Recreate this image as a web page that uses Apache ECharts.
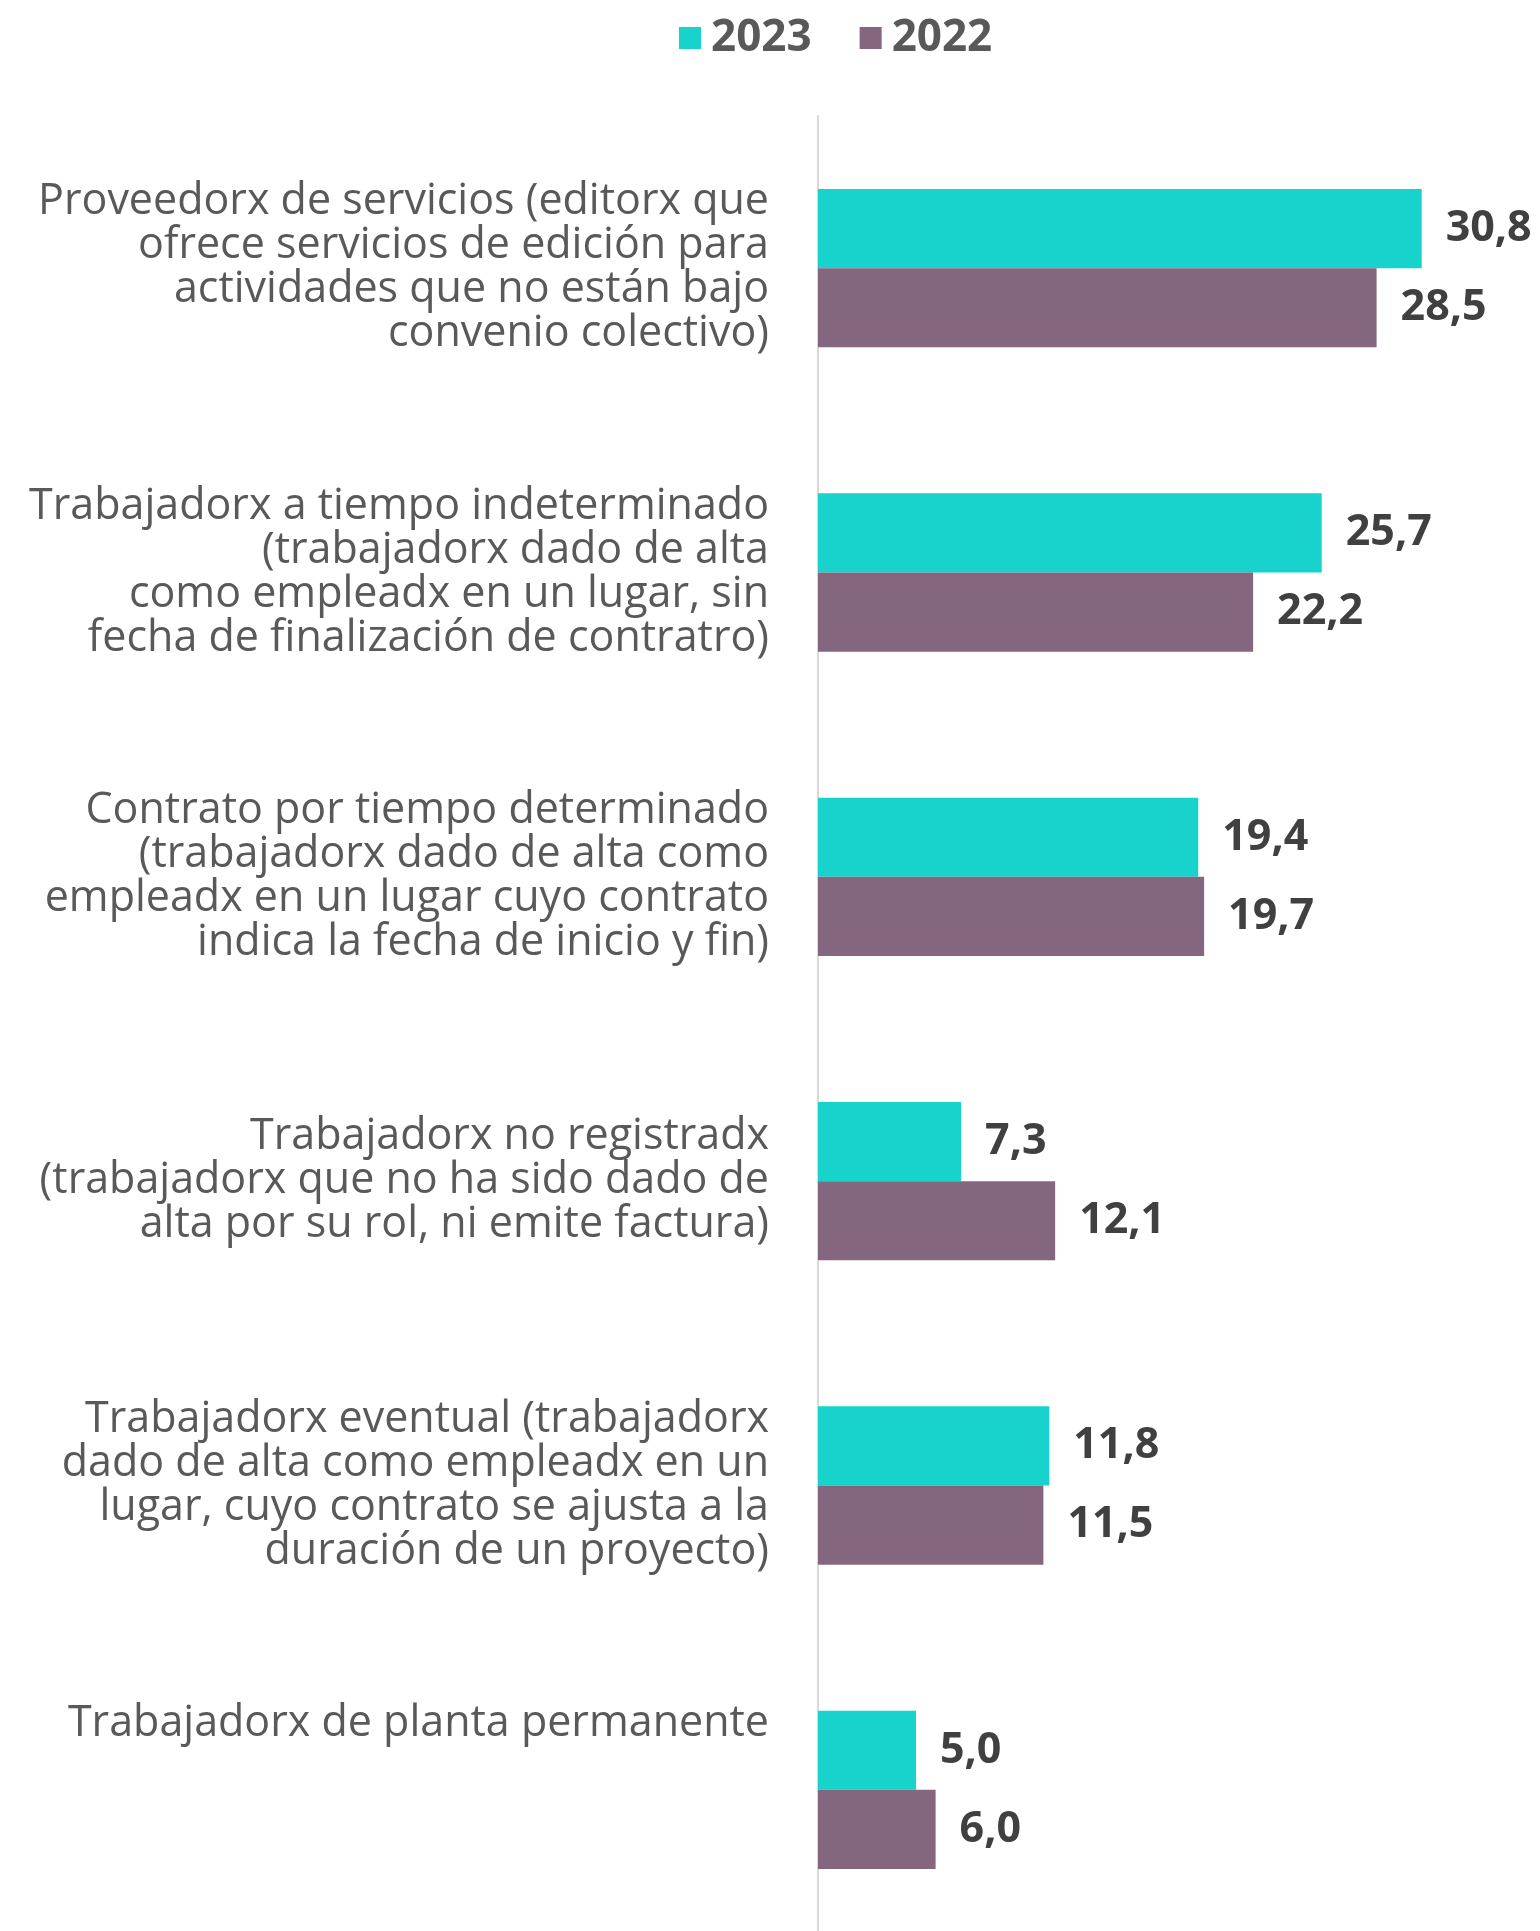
<!DOCTYPE html>
<html>
<head>
<meta charset="utf-8">
<script src="https://cdn.jsdelivr.net/npm/echarts@6/dist/echarts.min.js"></script>
<style>
  html, body { margin: 0; padding: 0; background: #fff; overflow: hidden; }
  #chart { width: 1540px; height: 1950px; }
</style>
</head>
<body>
<div id="chart"></div>
<script>
// ------------------ datos ------------------
var categories = [
    'Proveedorx de servicios (editorx que\nofrece servicios de edición para\nactividades que no están bajo\nconvenio colectivo)',
    'Trabajadorx a tiempo indeterminado\n(trabajadorx dado de alta\ncomo empleadx en un lugar, sin\nfecha de finalización de contratro)',
    'Contrato por tiempo determinado\n(trabajadorx dado de alta como\nempleadx en un lugar cuyo contrato\nindica la fecha de inicio y fin)',
    'Trabajadorx no registradx\n(trabajadorx que no ha sido dado de\nalta por su rol, ni emite factura)',
    'Trabajadorx eventual (trabajadorx\ndado de alta como empleadx en un\nlugar, cuyo contrato se ajusta a la\nduración de un proyecto)',
    'Trabajadorx de planta permanente'
];
var values2023 = [30.8, 25.7, 19.4, 7.3, 11.8, 5.0];
var values2022 = [28.5, 22.2, 19.7, 12.1, 11.5, 6.0];

var COLOR_2023 = '#17d3cc';
var COLOR_2022 = '#84677f';
var FONT = '"Open Sans"';

function fmt(p) {
    return p.value.toFixed(1).replace('.', ',');
}

var myChart = echarts.init(document.getElementById('chart'));

var labelStyle = {
    show: true,
    position: 'right',
    distance: 24,
    formatter: fmt,
    fontFamily: FONT,
    fontWeight: 'bold',
    fontSize: 43,
    color: '#404040'
};

var option = {
    animation: false,
    legend: {
        data: ['2023', '2022'],
        top: 11,
        left: 674,
        icon: 'rect',
        itemWidth: 22,
        itemHeight: 22,
        itemGap: 48,
        textStyle: {
            fontFamily: FONT,
            fontWeight: 'bold',
            fontSize: 44,
            lineHeight: 44,
            color: '#595959',
            padding: [0, 0, 0, 5]
        }
    },
    grid: {
        left: 818,
        top: 116,
        width: 705.6,
        height: 1826
    },
    xAxis: {
        type: 'value',
        min: 0,
        max: 36,
        show: false
    },
    yAxis: {
        type: 'category',
        inverse: true,
        data: categories,
        axisLine: { show: true, lineStyle: { color: '#d9d9d9', width: 2 } },
        axisTick: { show: false },
        splitLine: { show: false },
        axisLabel: {
            margin: 49,
            fontFamily: FONT,
            fontSize: 43,
            lineHeight: 44,
            color: '#595959',
            // la última etiqueta queda alineada arriba, como en el original
            formatter: function (value, index) {
                return index === categories.length - 1 ? value + '\n \n \n ' : value;
            }
        }
    },
    series: [
        {
            name: '2023',
            type: 'bar',
            data: values2023,
            barGap: '0%',
            barCategoryGap: '48%',
            itemStyle: { color: COLOR_2023 },
            label: labelStyle
        },
        {
            name: '2022',
            type: 'bar',
            data: values2022,
            barGap: '0%',
            barCategoryGap: '48%',
            itemStyle: { color: COLOR_2022 },
            label: labelStyle
        }
    ]
};
myChart.setOption(option);
</script>
</body>
</html>
